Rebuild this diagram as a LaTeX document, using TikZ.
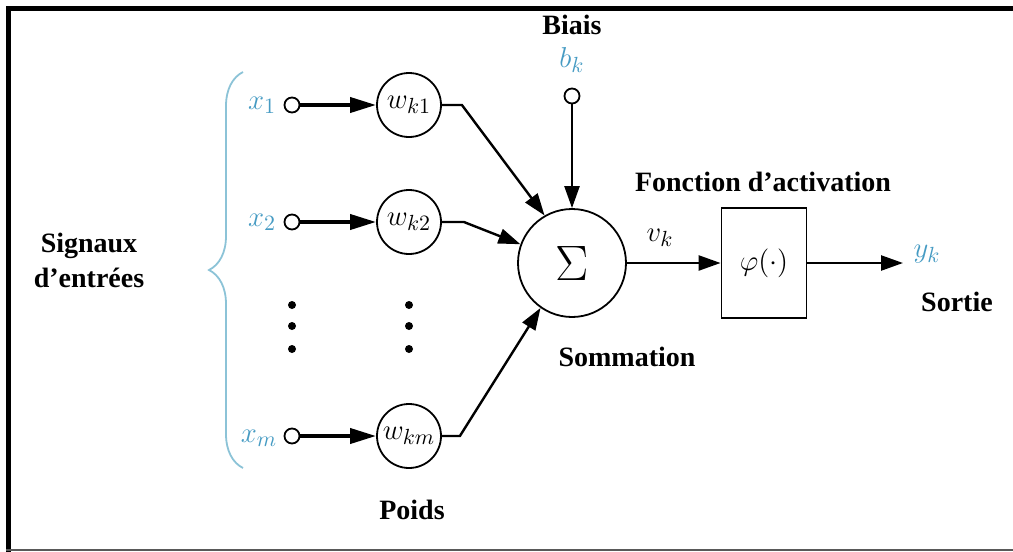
\documentclass[tikz,border=0pt]{standalone}
\usepackage{fontspec}
\setmainfont{Liberation Serif}
\usepackage{xcolor}
\usepackage{tikz}
\usetikzlibrary{arrows.meta,decorations.pathreplacing}
\definecolor{sigblue}{RGB}{70,155,195}
\definecolor{braceblue}{RGB}{140,195,215}

\begin{document}
\begin{tikzpicture}[x=0.5pt, y=-0.5pt,
      weight/.style={draw, circle, line width=0.9pt, minimum size=32pt,
                     inner sep=0pt, font=\fontsize{15}{17}\selectfont},
      port/.style={draw, circle, line width=0.9pt, minimum size=7.5pt, inner sep=0pt},
      lbl/.style={font=\fontsize{14}{17.5}\selectfont\bfseries, align=center},
      sig/.style={text=sigblue, font=\fontsize{15}{17}\selectfont},
      vdot/.style={fill, circle, minimum size=4pt, inner sep=0pt},
      feed/.style={line width=1.9pt, -{Triangle[length=13pt,width=7.5pt]}},
      link/.style={line width=1.2pt, -{Triangle[length=11pt,width=7.5pt]}}
    ]
      \useasboundingbox (0,0) rectangle (1013,552);
      % frame
      \fill (6,6) rectangle (1013,11);
      \fill (6,6) rectangle (11,552);
      \draw[gray!70!black, line width=1pt] (6,550) -- (1013,550);

      % inputs and weights
      \node[sig]    (x1) at (262,105) {$x_1$};
      \node[port]   (p1) at (292,105) {};
      \node[weight] (w1) at (409,105) {$w_{k1}$};
      \node[sig]    (x2) at (262,222) {$x_2$};
      \node[port]   (p2) at (292,222) {};
      \node[weight] (w2) at (409,222) {$w_{k2}$};
      \node[sig]    (xm) at (259,438) {$x_m$};
      \node[port]   (pm) at (292,436) {};
      \node[weight] (wm) at (409,436) {$w_{km}$};
      \foreach \y [count=\n] in {305,326,349} {
        \node[vdot] (da\n) at (292,\y) {};
        \node[vdot] (db\n) at (409,\y) {};
      }
      \draw[braceblue, line width=0.9pt, decorate,
            decoration={brace, amplitude=17pt}] (243,468) -- (243,72);
      \node[lbl] (inputs) at (89,260) {Signaux\\d’entrées};
      \node[lbl] (poids) at (412,510) {Poids};

      % summing junction and bias
      \node[draw, circle, line width=0.9pt, minimum size=54pt,
            font=\fontsize{24}{26}\selectfont] (sum) at (572,263) {$\Sigma$};
      \node[lbl]  (biais) at (572,25) {Biais};
      \node[sig]  (b)  at (572,60) {$b_k$};
      \node[port] (pb) at (572,96) {};
      \node[lbl]  (somme) at (627,357) {Sommation};

      % activation and output
      \node[draw, line width=0.9pt, minimum width=42.5pt, minimum height=55pt,
            font=\fontsize{15}{17}\selectfont] (phi) at (764,263) {$\varphi(\cdot)$};
      \node[lbl] (fonc) at (763,182) {Fonction d’activation};
      \node[font=\fontsize{15}{17}\selectfont] (v) at (660,238) {$v_k$};
      \coordinate (out) at (903,263);
      \node[sig] (y) at (927,254) {$y_k$};
      \node[lbl] (sortie) at (957,302) {Sortie};

      % connectors
      \draw[feed] (p1) -- (w1);
      \draw[feed] (p2) -- (w2);
      \draw[feed] (pm) -- (wm);
      \draw[link] (w1.east) -- ++(20,0) -- (sum.120);
      \draw[link] (w2.east) -- ++(22,0) -- (sum.160);
      \draw[link] (wm.east) -- ++(18,0) -- (sum.235);
      \draw[link] (pb) -- (sum);
      \draw[link] (sum) -- (phi);
      \draw[link] (phi) -- (out);
    \end{tikzpicture}
\end{document}
